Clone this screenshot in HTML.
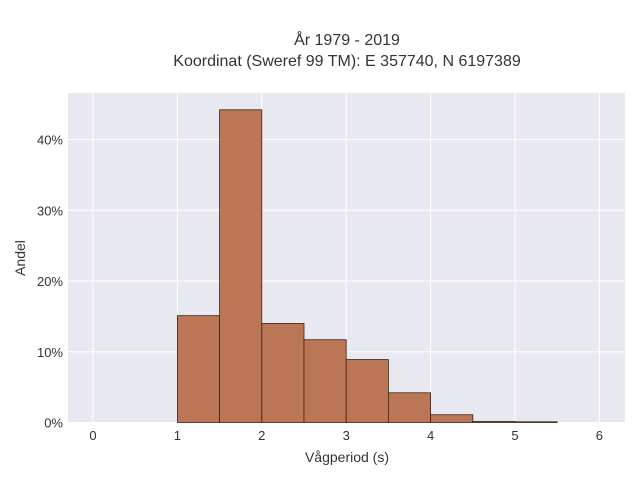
<!DOCTYPE html>
<html><head><meta charset="utf-8"><style>
body{margin:0;background:#fff;font-family:"Liberation Sans",sans-serif;}
svg text{font-family:"Liberation Sans",sans-serif;fill:#333;}
</style></head><body>
<svg width="640" height="480">
<text x="347" y="45" text-anchor="middle" font-size="16">År 1979 - 2019</text>
<text x="347" y="66" text-anchor="middle" font-size="16">Koordinat (Sweref 99 TM): E 357740, N 6197389</text>
<rect x="68" y="93" width="557" height="330" fill="#e8e8f0"/>
<g id="grid"></g><g id="bars"></g><g id="ticks"></g>
<text x="347" y="462" text-anchor="middle" font-size="14">Vågperiod (s)</text>
<text transform="translate(25,258) rotate(-90)" text-anchor="middle" font-size="14">Andel</text>
</svg>
<script>
const binStarts=[1,1.5,2,2.5,3,3.5,4,4.5,5];
const binValues=[15.1,44.2,14.0,11.7,8.9,4.2,1.1,0.15,0.1];
const xTicks=[0,1,2,3,4,5,6];
const yTicks=[0,10,20,30,40];
const binWidth=0.5;
const NS="http://www.w3.org/2000/svg";
const x=v=>93+v*84.4, y=v=>422.5-v*7.075;
const grid=document.getElementById('grid'),bars=document.getElementById('bars'),ticks=document.getElementById('ticks');
function mk(tag,at,parent){const e=document.createElementNS(NS,tag);for(const k in at)e.setAttribute(k,at[k]);parent.appendChild(e);return e;}
xTicks.forEach(t=>{
 const l=mk('line',{x1:x(t),x2:x(t),y1:93,y2:423,stroke:'#fff','stroke-width':1},grid);
 
 
 const tx=mk('text',{x:x(t),y:440,'text-anchor':'middle','font-size':13},ticks);tx.textContent=t;
 
 
});
yTicks.forEach(t=>{
 const l=mk('line',{x1:68,x2:625,y1:y(t),y2:y(t),stroke:'#fff','stroke-width':1},grid);
 
 
 const tx=mk('text',{x:63,y:y(t)+5,'text-anchor':'end','font-size':13},ticks);tx.textContent=t+'%';
 
 
});
binStarts.forEach((s,i)=>{
 const v=binValues[i];
 const r=mk('rect',{x:x(s),y:y(v),width:x(s+binWidth)-x(s),height:y(0)-y(v),fill:'#bb7755',stroke:'#3a2418','stroke-width':0.8},bars);
 
 
});
</script>
</body></html>
